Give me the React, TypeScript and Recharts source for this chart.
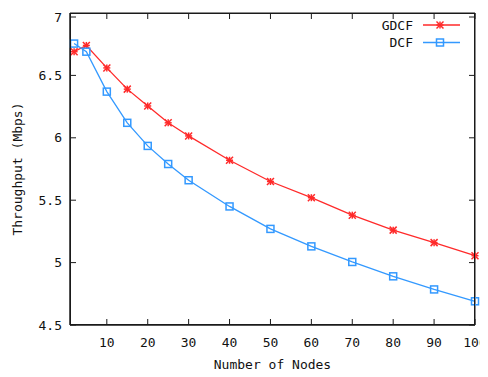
import React from 'react';
import { LineChart, Line, XAxis, YAxis, CartesianGrid } from 'recharts';

const nodes = [2, 5, 10, 15, 20, 25, 30, 40, 50, 60, 70, 80, 90, 100];
const gdcf = [6.69, 6.74, 6.56, 6.39, 6.255, 6.12, 6.015, 5.82, 5.65, 5.52, 5.38, 5.26, 5.16, 5.055];
const dcf = [6.755, 6.69, 6.37, 6.12, 5.935, 5.79, 5.66, 5.45, 5.27, 5.13, 5.005, 4.89, 4.785, 4.69];
const xTicks = [10, 20, 30, 40, 50, 60, 70, 80, 90, 100];
const yTicks = [4.5, 5, 5.5, 6, 6.5, 7];
const xDomain = [1, 100];
const yDomain = [4.5, 7];
const seriesNames = ['GDCF', 'DCF'];

const data = nodes.map((n, i) => ({ n, GDCF: gdcf[i], DCF: dcf[i] }));

const W = 480;
const H = 369;
const M = { top: 5, right: 13, left: 0, bottom: 0 };
const YW = 62;
const XH = 52;
const PLOT_W = W - M.left - M.right - YW;
const PLOT_H = H - M.top - M.bottom - XH;

const RED = '#ff2a2a';
const BLUE = '#3399ff';
const FONT = '"DejaVu Sans Mono", monospace';
const AX = '#1a1a1a';

const BottomTick = (p: any) => (
  <g>
    <line x1={p.x} y1={p.y} x2={p.x} y2={p.y - 6} stroke={AX} strokeWidth={1} />
    <line x1={p.x} y1={p.y - PLOT_H} x2={p.x} y2={p.y - PLOT_H + 6} stroke={AX} strokeWidth={1} />
    <text x={p.x} y={p.y + 17} textAnchor="middle" dominantBaseline="central" fontFamily={FONT} fontSize={13} fill="#111">
      {p.payload.value}
    </text>
  </g>
);
const LeftTick = (p: any) => (
  <g>
    <line x1={p.x} y1={p.y} x2={p.x + 6} y2={p.y} stroke={AX} strokeWidth={1} />
    <line x1={p.x + PLOT_W} y1={p.y} x2={p.x + PLOT_W - 6} y2={p.y} stroke={AX} strokeWidth={1} />
    <text x={p.x - 8} y={p.y} textAnchor="end" dominantBaseline="central" fontFamily={FONT} fontSize={13} fill="#111">
      {p.payload.value}
    </text>
  </g>
);

const Star = ({ cx, cy }: { cx: number; cy: number }) => {
  const r = 3.5;
  return (
    <g stroke={RED} strokeWidth={1.5}>
      <line x1={cx - r} y1={cy} x2={cx + r} y2={cy} />
      <line x1={cx} y1={cy - r} x2={cx} y2={cy + r} />
      <line x1={cx - r} y1={cy - r} x2={cx + r} y2={cy + r} />
      <line x1={cx - r} y1={cy + r} x2={cx + r} y2={cy - r} />
    </g>
  );
};
const Square = ({ cx, cy }: { cx: number; cy: number }) => (
  <rect x={cx - 3.5} y={cy - 3.5} width={7} height={7} fill="none" stroke={BLUE} strokeWidth={1.5} />
);

const starDot = (p: any) => <Star key={`s-${p.index}`} cx={p.cx} cy={p.cy} />;
const squareDot = (p: any) => <Square key={`q-${p.index}`} cx={p.cx} cy={p.cy} />;

export default function App() {
  return (
    <div style={{ position: 'relative', width: W, height: H }}>
      <LineChart width={W} height={H} data={data} margin={M}>
        <CartesianGrid
          stroke={AX}
          strokeWidth={1}
          horizontalPoints={[M.top, M.top + PLOT_H]}
          verticalPoints={[M.left + YW, M.left + YW + PLOT_W]}
        />
        <XAxis
          dataKey="n"
          type="number"
          domain={xDomain}
          ticks={xTicks}
          height={XH}
          tickSize={0}
          tickMargin={0}
          tickLine={false}
          tick={BottomTick}
          axisLine={{ stroke: AX, strokeWidth: 1 }}
          label={(lp: any) => {
            const vb = lp.viewBox || {};
            return (
              <text x={vb.x + vb.width / 2} y={vb.y + 39} textAnchor="middle" dominantBaseline="central" fontFamily={FONT} fontSize={13} fill="#111">
                Number of Nodes
              </text>
            );
          }}
        />
        <YAxis
          type="number"
          domain={yDomain}
          ticks={yTicks}
          width={YW}
          tickSize={0}
          tickMargin={0}
          tickLine={false}
          tick={LeftTick}
          axisLine={{ stroke: AX, strokeWidth: 1 }}
          label={(lp: any) => {
            const vb = lp.viewBox || {};
            const cy = vb.y + vb.height / 2;
            return (
              <text x={9} y={cy} transform={`rotate(-90 9 ${cy})`} textAnchor="middle" dominantBaseline="central" fontFamily={FONT} fontSize={13} fill="#111">
                Throughput (Mbps)
              </text>
            );
          }}
        />
        <Line dataKey="GDCF" stroke={RED} strokeWidth={1.3} dot={starDot} activeDot={false} isAnimationActive={false} />
        <Line dataKey="DCF" stroke={BLUE} strokeWidth={1.3} dot={squareDot} activeDot={false} isAnimationActive={false} />
        <g>
          <text x={405} y={17} textAnchor="end" dominantBaseline="central" fontFamily={FONT} fontSize={13} fill="#111">{seriesNames[0]}</text>
          <line x1={415} y1={17} x2={452} y2={17} stroke={RED} strokeWidth={1.3} />
          <Star cx={432} cy={17} />
          <text x={405} y={34.5} textAnchor="end" dominantBaseline="central" fontFamily={FONT} fontSize={13} fill="#111">{seriesNames[1]}</text>
          <line x1={415} y1={34.5} x2={452} y2={34.5} stroke={BLUE} strokeWidth={1.3} />
          <Square cx={432} cy={34.5} />
        </g>
      </LineChart>
      <svg width={W} height={H} style={{ position: 'absolute', left: 0, top: 0, pointerEvents: 'none' }}>
        <rect x={M.left + YW + 0.5} y={M.top + 0.5} width={PLOT_W - 1} height={PLOT_H - 1} fill="none" stroke={AX} strokeWidth={1} />
      </svg>
    </div>
  );
}
